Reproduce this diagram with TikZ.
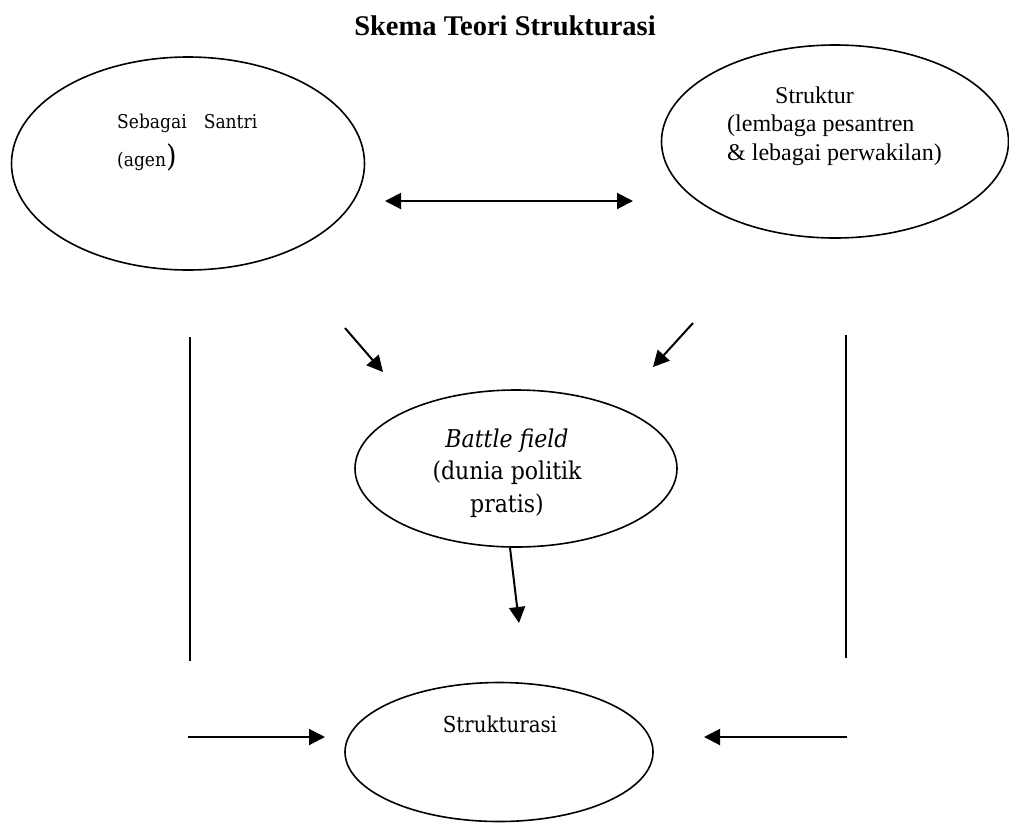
\documentclass[tikz,border=0pt]{standalone}
\usepackage{fontspec}
\setmainfont{Liberation Serif}
\newfontfamily\cambria{DejaVu Serif Condensed}
\usetikzlibrary{shapes.geometric,arrows.meta}
\tikzset{
  oval/.style={draw, ellipse, line width=1.6pt, inner sep=0pt},
  arr/.style={line width=2pt, -{Triangle[length=16pt,width=16pt]}},
  dbl/.style={line width=2pt, {Triangle[length=16pt,width=16pt]}-{Triangle[length=16pt,width=16pt]}},
  garis/.style={line width=1.4pt},
  txt/.style={inner sep=0pt, align=left, anchor=base west},
}
\begin{document}
\begin{tikzpicture}[x=1pt,y=-1pt]
    \useasboundingbox (0,0) rectangle (1009,823);
    \node[anchor=base, font=\bfseries\fontsize{28.5}{30}\selectfont] (judul) at (505,35) {Skema Teori Strukturasi};

    % Ellipses
    \node[oval, minimum width=353pt, minimum height=213pt] (santri) at (188,163.5) {};
    \node[oval, minimum width=347pt, minimum height=193pt] (struktur) at (835,141.5) {};
    \node[oval, minimum width=322pt, minimum height=157pt] (battle) at (516,468.5) {};
    \node[oval, minimum width=308pt, minimum height=139pt] (strukturasi) at (499,752) {};

    % Texts (base = last line)
    \node[txt, font=\cambria\fontsize{19}{38}\selectfont] (agen) at (117,166) {Sebagai\hspace{0.9em}Santri\\(agen{\fontsize{30}{30}\selectfont)}};
    \node[txt, font=\fontsize{24}{28.5}\selectfont] (lembaga) at (727,160) {\hspace{48pt}Struktur\\(lembaga pesantren\\\& lebagai perwakilan)};
    \node[inner sep=0pt, align=center, anchor=base, font=\cambria\fontsize{24.5}{32.5}\selectfont] (politik) at (507,512) {\textit{Battle field}\\(dunia politik\\pratis)};
    \node[inner sep=0pt, anchor=base, font=\cambria\fontsize{22}{26}\selectfont] (strukTxt) at (500,732) {Strukturasi};

    % Arrow ends
    \coordinate (dl) at (385,201); \coordinate (dr) at (633,201);
    \coordinate (p1) at (345,328); \coordinate (p2) at (383,372);
    \coordinate (q1) at (693,323); \coordinate (q2) at (653,367);
    \coordinate (r2) at (519,623);
    \coordinate (s1) at (188,737); \coordinate (s2) at (325,737);
    \coordinate (t1) at (847,737); \coordinate (t2) at (704,737);
    \coordinate (v1) at (190,337); \coordinate (v2) at (190,661);
    \coordinate (w1) at (846,335); \coordinate (w2) at (846,658);

    \draw[dbl] (dl) -- (dr);
    \foreach \a/\b in {p1/p2,q1/q2,s1/s2,t1/t2} \draw[arr] (\a) -- (\b);
    \draw[arr] ([xshift=-6pt]battle.south) -- (r2);
    \draw[garis] (v1) -- (v2);
    \draw[garis] (w1) -- (w2);
\end{tikzpicture}
\end{document}
